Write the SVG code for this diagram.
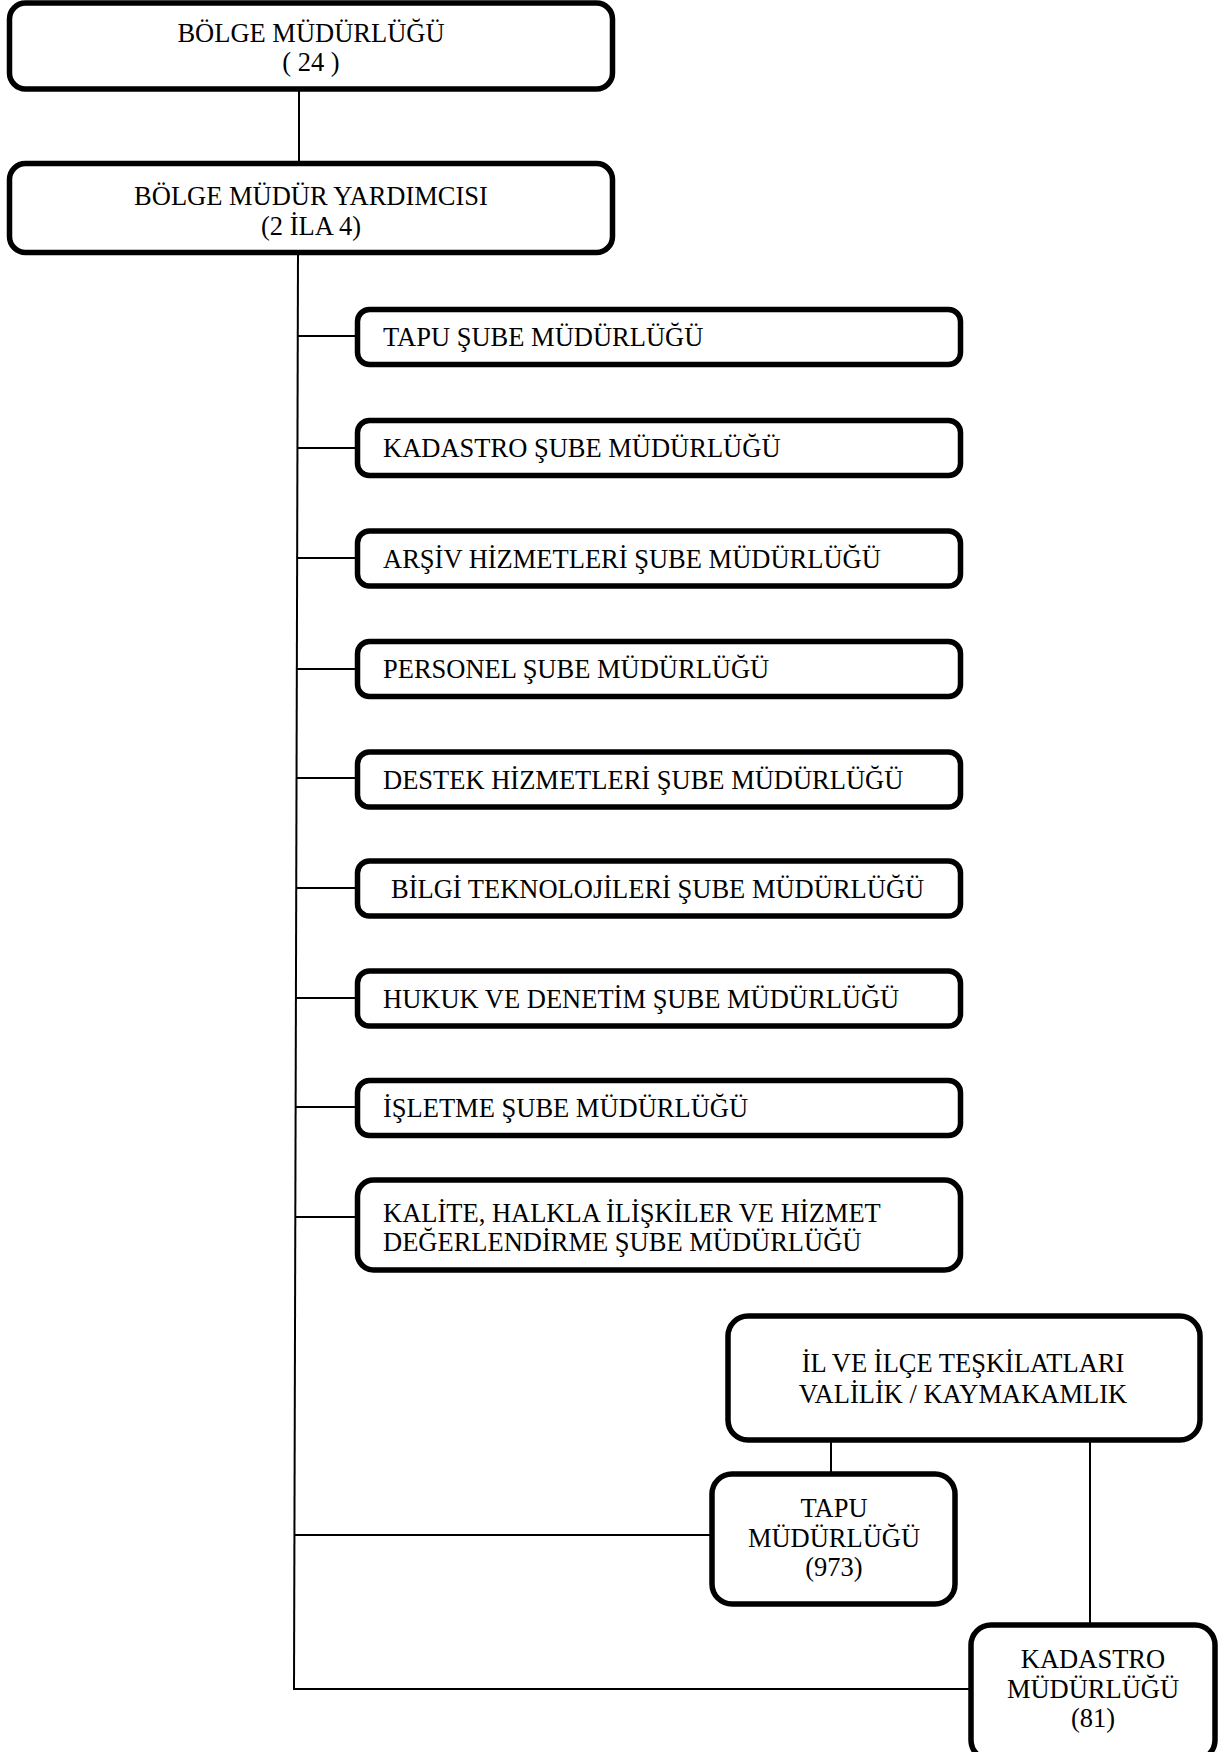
<svg xmlns="http://www.w3.org/2000/svg" width="1221" height="1752" viewBox="0 0 1221 1752">
<style>
.box{fill:#fff;stroke:#000;stroke-width:5.5}
.ln{stroke:#000;stroke-width:2;fill:none}
text{font-family:"Liberation Serif","Times New Roman",serif;font-size:26.5px;fill:#000}
.c{text-anchor:middle}
</style>
<rect width="1221" height="1752" fill="#fff"/>
<g id="connectors">
<line class="ln" x1="299" y1="89" x2="299" y2="164"/>
<line class="ln" x1="298" y1="252" x2="294" y2="1690"/>
<line class="ln" x1="298" y1="336" x2="356" y2="336"/>
<line class="ln" x1="298" y1="448" x2="356" y2="448"/>
<line class="ln" x1="298" y1="558" x2="356" y2="558"/>
<line class="ln" x1="297" y1="669" x2="356" y2="669"/>
<line class="ln" x1="297" y1="778" x2="356" y2="778"/>
<line class="ln" x1="297" y1="888" x2="356" y2="888"/>
<line class="ln" x1="296" y1="998" x2="356" y2="998"/>
<line class="ln" x1="296" y1="1107" x2="356" y2="1107"/>
<line class="ln" x1="296" y1="1217" x2="356" y2="1217"/>
<line class="ln" x1="294" y1="1535" x2="710" y2="1535"/>
<line class="ln" x1="294" y1="1689" x2="969" y2="1689"/>
<line class="ln" x1="831" y1="1440" x2="831" y2="1474"/>
<line class="ln" x1="1090" y1="1440" x2="1090" y2="1625"/>
</g>
<g id="bolge-mudurlugu">
<rect class="box" x="9.5" y="3" width="603" height="86" rx="16"/>
<text class="c" x="311" y="42">BÖLGE MÜDÜRLÜĞÜ</text>
<text class="c" x="311" y="71">( 24 )</text>
</g>
<g id="bolge-mudur-yardimcisi">
<rect class="box" x="9.5" y="163.5" width="603" height="89" rx="16"/>
<text class="c" x="311" y="205">BÖLGE MÜDÜR YARDIMCISI</text>
<text class="c" x="311" y="235">(2 İLA 4)</text>
</g>
<g id="tapu-sube">
<rect class="box" x="357.5" y="309.5" width="603" height="55" rx="12"/>
<text x="383" y="346">TAPU ŞUBE MÜDÜRLÜĞÜ</text>
</g>
<g id="kadastro-sube">
<rect class="box" x="357.5" y="420.5" width="603" height="55" rx="12"/>
<text x="383" y="457">KADASTRO ŞUBE MÜDÜRLÜĞÜ</text>
</g>
<g id="arsiv-sube">
<rect class="box" x="357.5" y="531" width="603" height="55" rx="12"/>
<text x="383" y="568">ARŞİV HİZMETLERİ ŞUBE MÜDÜRLÜĞÜ</text>
</g>
<g id="personel-sube">
<rect class="box" x="357.5" y="641.5" width="603" height="55" rx="12"/>
<text x="383" y="678">PERSONEL ŞUBE MÜDÜRLÜĞÜ</text>
</g>
<g id="destek-sube">
<rect class="box" x="357.5" y="752" width="603" height="55" rx="12"/>
<text x="383" y="789">DESTEK HİZMETLERİ ŞUBE MÜDÜRLÜĞÜ</text>
</g>
<g id="bilgi-sube">
<rect class="box" x="357.5" y="861" width="603" height="55" rx="12"/>
<text x="391" y="898">BİLGİ TEKNOLOJİLERİ ŞUBE MÜDÜRLÜĞÜ</text>
</g>
<g id="hukuk-sube">
<rect class="box" x="357.5" y="971" width="603" height="55" rx="12"/>
<text x="383" y="1008">HUKUK VE DENETİM ŞUBE MÜDÜRLÜĞÜ</text>
</g>
<g id="isletme-sube">
<rect class="box" x="357.5" y="1080.5" width="603" height="55" rx="12"/>
<text x="383" y="1117">İŞLETME ŞUBE MÜDÜRLÜĞÜ</text>
</g>
<g id="kalite-sube">
<rect class="box" x="357.5" y="1180" width="603" height="90" rx="16"/>
<text x="383" y="1222">KALİTE, HALKLA İLİŞKİLER VE HİZMET</text>
<text x="383" y="1251">DEĞERLENDİRME ŞUBE MÜDÜRLÜĞÜ</text>
</g>
<g id="il-ilce">
<rect class="box" x="728" y="1316" width="472" height="124" rx="20"/>
<text class="c" x="963" y="1372">İL VE İLÇE TEŞKİLATLARI</text>
<text class="c" x="963" y="1403">VALİLİK / KAYMAKAMLIK</text>
</g>
<g id="tapu-mudurlugu">
<rect class="box" x="712" y="1474" width="243" height="130" rx="20"/>
<text class="c" x="834" y="1517">TAPU</text>
<text class="c" x="834" y="1547">MÜDÜRLÜĞÜ</text>
<text class="c" x="834" y="1576">(973)</text>
</g>
<g id="kadastro-mudurlugu">
<rect class="box" x="971" y="1625" width="244" height="135" rx="20"/>
<text class="c" x="1093" y="1668">KADASTRO</text>
<text class="c" x="1093" y="1698">MÜDÜRLÜĞÜ</text>
<text class="c" x="1093" y="1727">(81)</text>
</g>
</svg>
